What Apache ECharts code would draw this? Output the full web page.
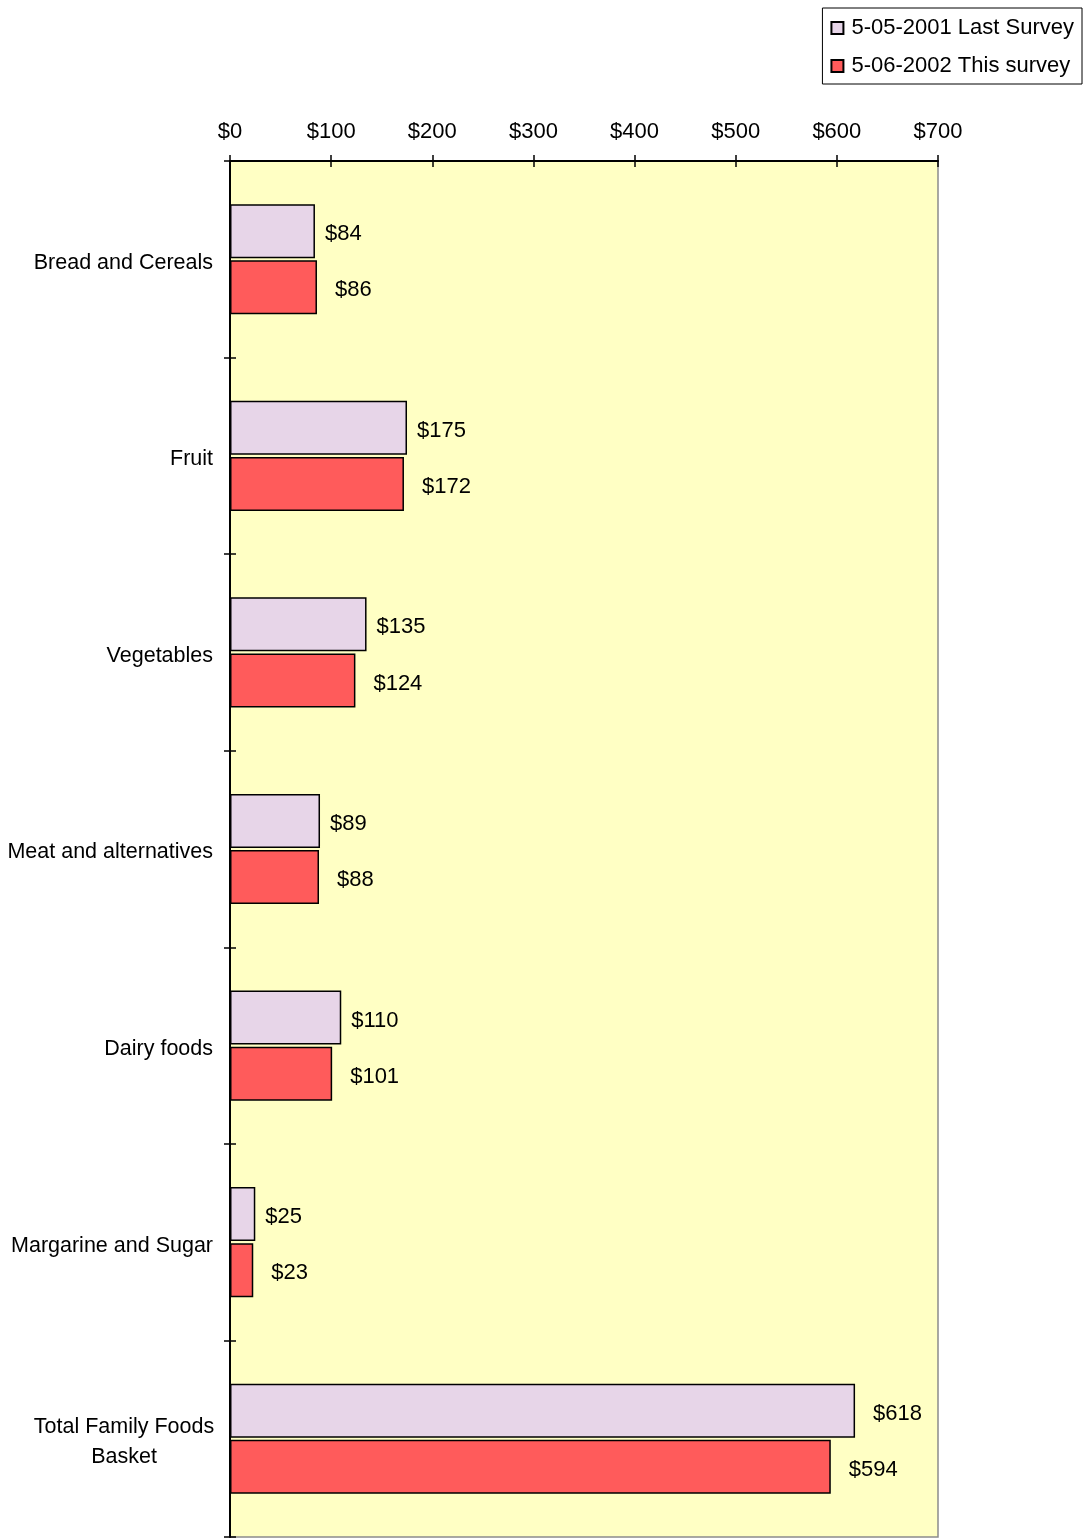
<!DOCTYPE html>
<html>
<head>
<meta charset="utf-8">
<script src="https://cdn.jsdelivr.net/npm/echarts@6/dist/echarts.min.js"></script>
<style>
html,body{margin:0;padding:0;background:#fff;}
#c{width:1090px;height:1539px;}
</style>
</head>
<body>
<div id="c"></div>
<script>
const categories = ['Bread and Cereals', 'Fruit', 'Vegetables', 'Meat and alternatives', 'Dairy foods', 'Margarine and Sugar', 'Total Family Foods\nBasket'];
const seriesNames = ['5-05-2001 Last Survey', '5-06-2002 This survey'];
const lastSurvey = [84, 175, 135, 89, 110, 25, 618];
const thisSurvey = [86, 172, 124, 88, 101, 23, 594];
const xTicks = { min: 0, max: 700, interval: 100 };

const FONT = 'Liberation Sans, Arial, sans-serif';
const chart = echarts.init(document.getElementById('c'), null, { renderer: 'canvas' });

function barLabel(distance) {
  return {
    show: true, position: 'right', distance: distance, offset: [0, 3],
    formatter: p => '$' + p.value,
    color: '#000', fontSize: 22, fontFamily: FONT
  };
}

chart.setOption({
  animation: false,
  textStyle: { fontFamily: FONT },
  legend: {
    orient: 'vertical', right: 8, top: 8,
    padding: [9, 8, 7, 8], itemGap: 16,
    backgroundColor: '#fff', borderColor: '#000', borderWidth: 1,
    icon: 'rect', itemWidth: 12, itemHeight: 12,
    textStyle: { fontSize: 22, color: '#000', fontFamily: FONT, lineHeight: 22, padding: [0, 0, 0, 3] },
    data: seriesNames
  },
  grid: {
    left: 230, right: 152, top: 161, bottom: 2,
    show: true, backgroundColor: '#FFFFC4', borderColor: '#8c8c8c', borderWidth: 1.5
  },
  xAxis: [{
    type: 'value', position: 'top', min: xTicks.min, max: xTicks.max, interval: xTicks.interval,
    axisLine: { show: true, lineStyle: { color: '#000', width: 2 } },
    axisTick: { show: true, length: 6, lineStyle: { color: '#000', width: 1.5 } },
    axisLabel: { formatter: v => '$' + v, fontSize: 22, color: '#000', fontFamily: FONT, margin: 18 },
    splitLine: { show: false }
  }, {
    type: 'value', position: 'top', min: xTicks.min, max: xTicks.max, interval: xTicks.interval,
    axisLine: { show: false },
    axisTick: { show: true, inside: true, length: 6, lineStyle: { color: '#000', width: 1.5 } },
    axisLabel: { show: false }, splitLine: { show: false }
  }],
  yAxis: [{
    type: 'category', inverse: true, data: categories,
    axisLine: { show: true, lineStyle: { color: '#000', width: 2 } },
    axisTick: { show: true, length: 6, lineStyle: { color: '#000', width: 1.5 } },
    axisLabel: {
      fontSize: 21.5, color: '#000', fontFamily: FONT, margin: 17, lineHeight: 30,
      padding: [7, 0, 0, 0],
      formatter: v => v.indexOf('\n') >= 0 ? '{c|' + v + '}' : v,
      rich: { c: { width: 178, align: 'center', fontSize: 21.5, lineHeight: 30, color: '#000', fontFamily: FONT } }
    }
  }, {
    type: 'category', inverse: true, data: categories, position: 'left',
    axisLine: { show: false },
    axisTick: { show: true, inside: true, length: 6, lineStyle: { color: '#000', width: 1.5 } },
    axisLabel: { show: false }
  }],
  series: [{
    name: seriesNames[0], type: 'bar', barWidth: 54, barGap: '4%',
    data: lastSurvey.map((v, i) => i === lastSurvey.length - 1 ? { value: v, label: { distance: 18 } } : v),
    itemStyle: { color: '#E7D5E8', borderColor: '#000', borderWidth: 1.5 },
    label: barLabel(10)
  }, {
    name: seriesNames[1], type: 'bar', data: thisSurvey, barWidth: 54, barGap: '4%',
    itemStyle: { color: '#FF5B5B', borderColor: '#000', borderWidth: 1.5 },
    label: barLabel(18)
  }]
});
</script>
</body>
</html>
